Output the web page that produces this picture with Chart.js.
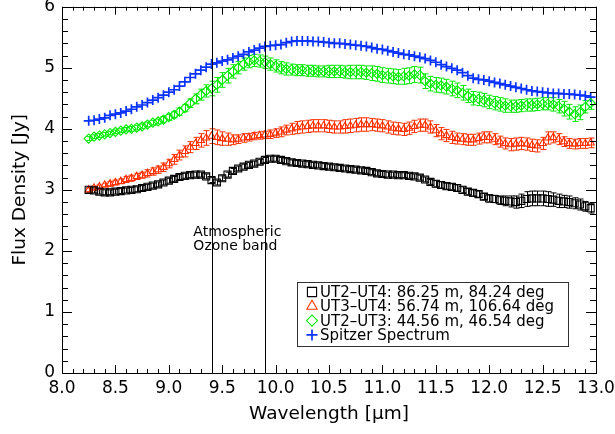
<!DOCTYPE html>
<html>
<head>
<meta charset="utf-8">
<script src="https://cdn.jsdelivr.net/npm/chart.js@4/dist/chart.umd.min.js"></script>
<style>
  html, body { margin: 0; padding: 0; background: #fff; }
  canvas { display: block; }
</style>
</head>
<body>
<canvas id="c" width="615" height="434"></canvas>
<script>
// Wavelength grid of the spectra [micron]
const wavelength = [
  8.25, 8.30, 8.35, 8.40, 8.45, 8.50, 8.55, 8.60, 8.65, 8.70, 8.75, 8.80, 8.85, 8.90, 8.95,
  9.00, 9.05, 9.10, 9.15, 9.20, 9.25, 9.30, 9.35, 9.40, 9.45, 9.50, 9.55, 9.60, 9.65, 9.70, 9.75, 9.80, 9.85, 9.90, 9.95,
  10.00, 10.05, 10.10, 10.15, 10.20, 10.25, 10.30, 10.35, 10.40, 10.45, 10.50, 10.55, 10.60, 10.65, 10.70, 10.75, 10.80, 10.85, 10.90, 10.95,
  11.00, 11.05, 11.10, 11.15, 11.20, 11.25, 11.30, 11.35, 11.40, 11.45, 11.50, 11.55, 11.60, 11.65, 11.70, 11.75, 11.80, 11.85, 11.90, 11.95,
  12.00, 12.05, 12.10, 12.15, 12.20, 12.25, 12.30, 12.35, 12.40, 12.45, 12.50, 12.55, 12.60, 12.65, 12.70, 12.75, 12.80, 12.85, 12.90, 12.95
];

// Correlated flux, UT2-UT4 baseline [Jy]
const ut24Flux = [
  3.00, 2.99, 2.97, 2.96, 2.96, 2.97, 2.98, 2.99, 3.00, 3.01, 3.03, 3.05, 3.07, 3.09, 3.12,
  3.15, 3.18, 3.21, 3.23, 3.24, 3.25, 3.25, 3.22, 3.16, 3.12, 3.19, 3.25, 3.31, 3.35, 3.38, 3.41, 3.43, 3.46, 3.49, 3.51,
  3.51, 3.49, 3.47, 3.45, 3.44, 3.43, 3.42, 3.41, 3.40, 3.39, 3.38, 3.37, 3.36, 3.35, 3.34, 3.33, 3.32, 3.31, 3.29, 3.27,
  3.26, 3.25, 3.25, 3.24, 3.24, 3.23, 3.22, 3.20, 3.17, 3.13, 3.10, 3.08, 3.06, 3.05, 3.03, 3.00, 2.97, 2.95, 2.93, 2.89,
  2.86, 2.85, 2.83, 2.82, 2.81, 2.80, 2.82, 2.85, 2.86, 2.86, 2.86, 2.85, 2.84, 2.82, 2.81, 2.80, 2.78, 2.76, 2.73, 2.70
];
const ut24Err = [
  0.04, 0.04, 0.04, 0.04, 0.04, 0.04, 0.04, 0.04, 0.04, 0.04, 0.04, 0.04, 0.04, 0.04, 0.04,
  0.04, 0.04, 0.04, 0.04, 0.04, 0.04, 0.04, 0.04, 0.04, 0.04, 0.04, 0.04, 0.04, 0.04, 0.04, 0.04, 0.04, 0.04, 0.04, 0.04,
  0.04, 0.04, 0.04, 0.04, 0.04, 0.04, 0.04, 0.04, 0.04, 0.04, 0.04, 0.04, 0.04, 0.04, 0.04, 0.04, 0.04, 0.04, 0.04, 0.04,
  0.04, 0.04, 0.04, 0.04, 0.04, 0.04, 0.04, 0.04, 0.04, 0.04, 0.05, 0.05, 0.05, 0.05, 0.05, 0.05, 0.05, 0.05, 0.05, 0.05,
  0.06, 0.06, 0.07, 0.08, 0.09, 0.10, 0.11, 0.12, 0.12, 0.12, 0.12, 0.12, 0.11, 0.11, 0.10, 0.10, 0.09, 0.09, 0.08, 0.08
];

// Correlated flux, UT3-UT4 baseline [Jy]
const ut34Flux = [
  3.00, 3.03, 3.05, 3.08, 3.10, 3.12, 3.14, 3.17, 3.19, 3.22, 3.24, 3.27, 3.30, 3.33, 3.37,
  3.43, 3.50, 3.57, 3.63, 3.70, 3.76, 3.81, 3.85, 3.88, 3.86, 3.84, 3.83, 3.82, 3.83, 3.85, 3.86, 3.88, 3.89, 3.90, 3.91,
  3.93, 3.95, 3.98, 4.00, 4.02, 4.03, 4.04, 4.05, 4.05, 4.05, 4.04, 4.03, 4.03, 4.04, 4.05, 4.06, 4.07, 4.07, 4.07, 4.06,
  4.05, 4.03, 4.01, 4.00, 3.99, 4.01, 4.04, 4.06, 4.06, 4.03, 3.97, 3.92, 3.89, 3.86, 3.84, 3.83, 3.82, 3.82, 3.84, 3.86,
  3.86, 3.83, 3.79, 3.76, 3.74, 3.75, 3.76, 3.75, 3.73, 3.72, 3.76, 3.85, 3.86, 3.83, 3.79, 3.76, 3.75, 3.76, 3.76, 3.77
];
const ut34Err = [
  0.03, 0.03, 0.03, 0.03, 0.04, 0.04, 0.04, 0.05, 0.05, 0.05, 0.05, 0.06, 0.06, 0.06, 0.07,
  0.07, 0.08, 0.08, 0.09, 0.09, 0.10, 0.11, 0.12, 0.12, 0.12, 0.11, 0.10, 0.08, 0.07, 0.07, 0.06, 0.06, 0.06, 0.06, 0.07,
  0.07, 0.08, 0.08, 0.09, 0.10, 0.10, 0.10, 0.10, 0.10, 0.10, 0.10, 0.10, 0.10, 0.11, 0.11, 0.11, 0.11, 0.11, 0.10, 0.10,
  0.10, 0.10, 0.10, 0.10, 0.10, 0.10, 0.10, 0.10, 0.10, 0.10, 0.10, 0.10, 0.10, 0.10, 0.09, 0.09, 0.09, 0.09, 0.09, 0.09,
  0.09, 0.09, 0.09, 0.09, 0.10, 0.10, 0.10, 0.10, 0.10, 0.10, 0.10, 0.10, 0.09, 0.09, 0.08, 0.08, 0.08, 0.08, 0.08, 0.08
];

// Correlated flux, UT2-UT3 baseline [Jy]
const ut23Flux = [
  3.84, 3.87, 3.89, 3.91, 3.93, 3.95, 3.97, 3.99, 4.00, 4.02, 4.04, 4.07, 4.10, 4.12, 4.15,
  4.19, 4.23, 4.28, 4.34, 4.42, 4.49, 4.56, 4.62, 4.66, 4.72, 4.80, 4.87, 4.94, 5.00, 5.06, 5.10, 5.12, 5.11, 5.09, 5.06,
  5.03, 5.00, 4.98, 4.97, 4.96, 4.96, 4.95, 4.95, 4.94, 4.94, 4.94, 4.94, 4.94, 4.93, 4.93, 4.93, 4.93, 4.92, 4.91, 4.90,
  4.88, 4.87, 4.86, 4.85, 4.86, 4.87, 4.89, 4.88, 4.78, 4.74, 4.72, 4.71, 4.69, 4.66, 4.63, 4.59, 4.54, 4.50, 4.49, 4.47,
  4.44, 4.42, 4.40, 4.38, 4.37, 4.37, 4.38, 4.39, 4.39, 4.40, 4.41, 4.41, 4.40, 4.37, 4.33, 4.28, 4.24, 4.27, 4.36, 4.42
];
const ut23Err = [
  0.03, 0.03, 0.03, 0.03, 0.03, 0.03, 0.03, 0.03, 0.04, 0.04, 0.04, 0.04, 0.04, 0.04, 0.05,
  0.05, 0.05, 0.06, 0.06, 0.07, 0.08, 0.09, 0.10, 0.12, 0.12, 0.12, 0.12, 0.11, 0.10, 0.10, 0.10, 0.10, 0.10, 0.10, 0.10,
  0.10, 0.10, 0.10, 0.09, 0.09, 0.09, 0.09, 0.09, 0.09, 0.09, 0.10, 0.10, 0.10, 0.10, 0.11, 0.11, 0.11, 0.11, 0.12, 0.12,
  0.12, 0.12, 0.12, 0.12, 0.13, 0.13, 0.13, 0.13, 0.12, 0.12, 0.12, 0.12, 0.12, 0.12, 0.12, 0.12, 0.11, 0.11, 0.11, 0.11,
  0.11, 0.11, 0.11, 0.11, 0.10, 0.10, 0.10, 0.10, 0.10, 0.10, 0.10, 0.10, 0.11, 0.11, 0.12, 0.12, 0.12, 0.12, 0.10, 0.10
];

// Total flux from the Spitzer spectrum [Jy]
const spitzerFlux = [
  4.13, 4.14, 4.16, 4.18, 4.22, 4.24, 4.26, 4.29, 4.32, 4.36, 4.39, 4.43, 4.47, 4.51, 4.55,
  4.60, 4.64, 4.70, 4.77, 4.84, 4.90, 4.96, 5.01, 5.06, 5.08, 5.11, 5.13, 5.16, 5.19, 5.22, 5.26, 5.29, 5.32, 5.35, 5.36,
  5.37, 5.38, 5.41, 5.43, 5.44, 5.44, 5.44, 5.43, 5.43, 5.42, 5.41, 5.40, 5.40, 5.39, 5.38, 5.37, 5.36, 5.35, 5.33, 5.31,
  5.30, 5.28, 5.26, 5.24, 5.22, 5.21, 5.19, 5.17, 5.15, 5.12, 5.09, 5.05, 5.02, 4.99, 4.96, 4.92, 4.87, 4.83, 4.81, 4.80,
  4.78, 4.76, 4.74, 4.72, 4.70, 4.68, 4.66, 4.64, 4.62, 4.61, 4.60, 4.59, 4.58, 4.58, 4.57, 4.57, 4.56, 4.55, 4.54, 4.52
];

// Edges of the telluric ozone band [micron]
const ozoneBand = [9.4, 9.9];

const seriesLabels = [
  'UT2\u2013UT4: 86.25 m, 84.24 deg',
  'UT3\u2013UT4: 56.74 m, 106.64 deg',
  'UT2\u2013UT3: 44.56 m, 46.54 deg',
  'Spitzer Spectrum'
];
const xTickStep = 0.5;
const yTickStep = 1;

const FONT = '"DejaVu Sans", sans-serif';

function toPoints(values) {
  return values.map((v, i) => ({ x: wavelength[i], y: v }));
}

// Vertical error bars with short caps, drawn through each dataset's scales
const errorBarPlugin = {
  id: 'errorBars',
  beforeDatasetsDraw(chart) {
    const { ctx } = chart;
    const ys = chart.scales.y;
    chart.data.datasets.forEach((ds, di) => {
      if (!ds.errors) return;
      const meta = chart.getDatasetMeta(di);
      ctx.save();
      ctx.strokeStyle = ds.borderColor;
      ctx.lineWidth = 1;
      meta.data.forEach((pt, i) => {
        const v = ds.data[i].y, e = ds.errors[i];
        const x = Math.round(pt.x) + 0.5;
        const yTop = ys.getPixelForValue(v + e);
        const yBot = ys.getPixelForValue(v - e);
        ctx.beginPath();
        ctx.moveTo(x, yTop); ctx.lineTo(x, yBot);
        ctx.moveTo(x - 3, yTop); ctx.lineTo(x + 3, yTop);
        ctx.moveTo(x - 3, yBot); ctx.lineTo(x + 3, yBot);
        ctx.stroke();
      });
      ctx.restore();
    });
  }
};

// Plot frame with inward ticks on all four sides, plus the ozone band markers
const framePlugin = {
  id: 'frame',
  afterDatasetsDraw(chart) {
    const { ctx, chartArea: a } = chart;
    const xs = chart.scales.x, ys = chart.scales.y;
    ctx.save();
    ctx.strokeStyle = '#000';
    ctx.lineWidth = 1;

    // ozone band edges
    ozoneBand.forEach(w => {
      const px = Math.round(xs.getPixelForValue(w)) + 0.5;
      ctx.beginPath();
      ctx.moveTo(px, a.top); ctx.lineTo(px, a.bottom);
      ctx.stroke();
    });

    ctx.beginPath();
    // x ticks: minor every 0.1, major every 0.5
    for (let k = 0; k <= 50; k++) {
      const w = 8 + k * 0.1;
      const px = Math.round(xs.getPixelForValue(w)) + 0.5;
      const len = (k % 5 === 0) ? 8 : 4;
      ctx.moveTo(px, a.bottom); ctx.lineTo(px, a.bottom - len);
      ctx.moveTo(px, a.top); ctx.lineTo(px, a.top + len);
    }
    // y ticks: minor every 0.2, major every 1
    for (let k = 0; k <= 30; k++) {
      const v = k * 0.2;
      const py = Math.round(ys.getPixelForValue(v)) + 0.5;
      const len = (k % 5 === 0) ? 10 : 6;
      ctx.moveTo(a.left, py); ctx.lineTo(a.left + len, py);
      ctx.moveTo(a.right, py); ctx.lineTo(a.right - len, py);
    }
    ctx.stroke();

    ctx.strokeRect(Math.round(a.left) + 0.5, Math.round(a.top) + 0.5,
                   Math.round(a.right - a.left), Math.round(a.bottom - a.top));

    // band annotation
    ctx.fillStyle = '#000';
    ctx.font = '14px ' + FONT;
    ctx.textAlign = 'left';
    ctx.textBaseline = 'alphabetic';
    const tx = xs.getPixelForValue(9.23);
    ctx.fillText('Atmospheric', tx, ys.getPixelForValue(2.25));
    ctx.fillText('Ozone band', tx, ys.getPixelForValue(2.01));
    ctx.restore();
  }
};

// Boxed legend inside the plot
const legendPlugin = {
  id: 'boxLegend',
  afterDraw(chart) {
    const { ctx } = chart;
    const bx = 297, by = 282, bw = 271, bh = 64;
    ctx.save();
    ctx.strokeStyle = '#333';
    ctx.lineWidth = 1;
    ctx.strokeRect(bx + 0.5, by + 0.5, bw, bh);
    ctx.font = '15px ' + FONT;
    ctx.textBaseline = 'alphabetic';
    ctx.textAlign = 'left';
    chart.data.datasets.forEach((ds, i) => {
      const base = by + 15 + i * 14.3;
      const cy = base - 5;
      ctx.strokeStyle = ds.borderColor;
      ctx.fillStyle = 'rgba(0,0,0,0)';
      ctx.lineWidth = ds.pointBorderWidth;
      Chart.helpers.drawPoint(ctx, {
        pointStyle: ds.pointStyle,
        radius: ds.legendRadius,
        borderWidth: ds.pointBorderWidth,
        rotation: 0
      }, 312, cy);
      ctx.fillStyle = '#000';
      ctx.fillText(ds.label, 320, base);
    });
    ctx.restore();
  }
};

new Chart(document.getElementById('c'), {
  type: 'scatter',
  data: {
    datasets: [
      {
        label: seriesLabels[0], data: toPoints(ut24Flux), errors: ut24Err,
        pointStyle: 'rect', pointRadius: 5, legendRadius: 6.5, pointBorderWidth: 1.1,
        borderColor: '#000000', backgroundColor: 'rgba(0,0,0,0)'
      },
      {
        label: seriesLabels[1], data: toPoints(ut34Flux), errors: ut34Err,
        pointStyle: 'triangle', pointRadius: 4.2, legendRadius: 6, pointBorderWidth: 1.1,
        borderColor: '#ff3000', backgroundColor: 'rgba(0,0,0,0)'
      },
      {
        label: seriesLabels[2], data: toPoints(ut23Flux), errors: ut23Err,
        pointStyle: 'rectRot', pointRadius: 4.6, legendRadius: 5.5, pointBorderWidth: 1.1,
        borderColor: '#00ea00', backgroundColor: 'rgba(0,0,0,0)'
      },
      {
        label: seriesLabels[3], data: toPoints(spitzerFlux),
        pointStyle: 'cross', pointRadius: 5, legendRadius: 5.5, pointBorderWidth: 1.7,
        borderColor: '#0a32ff', backgroundColor: 'rgba(0,0,0,0)'
      }
    ]
  },
  options: {
    responsive: false,
    animation: false,
    events: [],
    layout: { padding: { top: 4, right: 19, left: 0, bottom: 0 } },
    plugins: { legend: { display: false }, tooltip: { enabled: false } },
    elements: { point: { hoverRadius: 0 } },
    scales: {
      x: {
        type: 'linear', min: 8, max: 13,
        afterFit(s) { s.height = 61; s.paddingLeft = 0; s.paddingRight = 0; },
        grid: { display: false, drawTicks: false },
        border: { display: false },
        ticks: {
          stepSize: xTickStep, autoSkip: false, maxRotation: 0, padding: 5,
          color: '#000', font: { family: FONT, size: 17 },
          callback: v => v.toFixed(1)
        },
        title: {
          display: true, text: 'Wavelength [\u03bcm]', color: '#000',
          font: { family: FONT, size: 18.5 }, padding: { top: 0, bottom: 9 }
        }
      },
      y: {
        type: 'linear', min: 0, max: 6,
        afterFit(s) { s.width = 62; s.paddingTop = 0; s.paddingBottom = 0; },
        grid: { display: false, drawTicks: false },
        border: { display: false },
        ticks: {
          stepSize: yTickStep, padding: 7,
          color: '#000', font: { family: FONT, size: 17 },
          callback: v => String(v)
        },
        title: {
          display: true, text: 'Flux Density [Jy]', color: '#000',
          font: { family: FONT, size: 18.5 }, padding: { top: 9, bottom: 0 }
        }
      }
    }
  },
  plugins: [errorBarPlugin, framePlugin, legendPlugin]
});
</script>
</body>
</html>
